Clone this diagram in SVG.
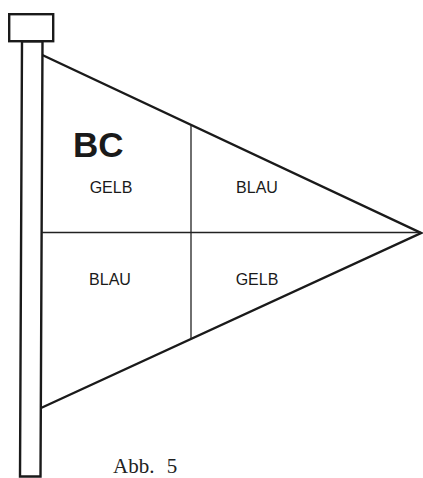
<svg xmlns="http://www.w3.org/2000/svg" width="423" height="478" viewBox="0 0 423 478">
<style>
.thick{fill:none;stroke:#1a1a1a;stroke-width:2.4;stroke-linejoin:miter}
.thin{fill:none;stroke:#222;stroke-width:1.3}
.lbl{font-family:"Liberation Sans",Arial,sans-serif;font-size:16px;fill:#1a1a1a;text-anchor:middle}
</style>
<rect width="423" height="478" fill="#fff"/>
<g id="pole">
<rect class="thick" x="9.2" y="14.2" width="44" height="27"/>
<polygon class="thick" points="22,41.2 42.5,41.2 40.5,476.5 20,476.5"/>
</g>
<g id="flag">
<polyline class="thick" points="42.3,55 421,233 41,408"/>
</g>
<g id="dividers">
<line class="thin" x1="42" y1="232.5" x2="421" y2="232.5"/>
<line class="thin" x1="191" y1="124.5" x2="191" y2="339.5"/>
</g>
<g id="labels">
<text x="73" y="157" font-family="Liberation Sans,Arial,sans-serif" font-size="35" font-weight="bold" fill="#1a1a1a">BC</text>
<text class="lbl" x="111" y="193">GELB</text>
<text class="lbl" x="257" y="193">BLAU</text>
<text class="lbl" x="110" y="285">BLAU</text>
<text class="lbl" x="257" y="285">GELB</text>
<text x="113" y="473" font-family="Liberation Serif,Times New Roman,serif" font-size="21" fill="#222" word-spacing="7">Abb. 5</text>
</g>
</svg>
